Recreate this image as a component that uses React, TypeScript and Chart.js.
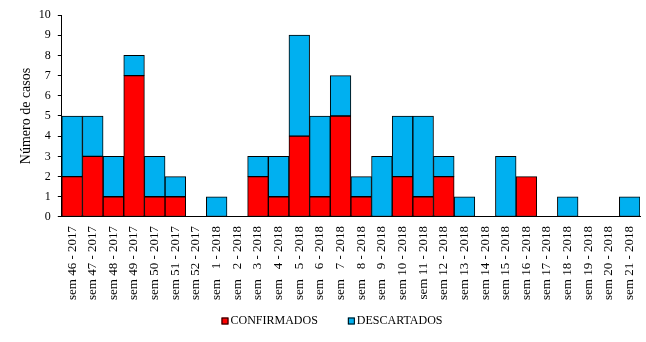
import React, { useEffect, useRef } from "react";
import { Chart, registerables } from "chart.js";

Chart.register(...registerables);

const categories = [
  "sem 46 - 2017", "sem 47 - 2017", "sem 48 - 2017", "sem 49 - 2017", "sem 50 - 2017",
  "sem 51 - 2017", "sem 52 - 2017", "sem   1 - 2018", "sem   2 - 2018", "sem   3 - 2018",
  "sem   4 - 2018", "sem   5 - 2018", "sem   6 - 2018", "sem   7 - 2018", "sem   8 - 2018",
  "sem   9 - 2018", "sem 10 - 2018", "sem 11 - 2018", "sem 12 - 2018", "sem 13 - 2018",
  "sem 14 - 2018", "sem 15 - 2018", "sem 16 - 2018", "sem 17 - 2018", "sem 18 - 2018",
  "sem 19 - 2018", "sem 20 - 2018", "sem 21 - 2018",
];

const confirmados = [2, 3, 1, 7, 1, 1, 0, 0, 0, 2, 1, 4, 1, 5, 1, 0, 2, 1, 2, 0, 0, 0, 2, 0, 0, 0, 0, 0];
const descartados = [3, 2, 2, 1, 2, 1, 0, 1, 0, 1, 2, 5, 4, 2, 1, 3, 3, 4, 1, 1, 0, 3, 0, 0, 1, 0, 0, 1];

const seriesNames = ["CONFIRMADOS", "DESCARTADOS"];
const seriesColors = ["#FF0000", "#00B0F0"];

const yTicksMax = 10;

const FAMILY = "Liberation Serif, Times New Roman, serif";

// custom bottom legend: small bordered squares, tight gap to text
const bottomLegend = {
  id: "bottomLegend",
  afterDraw(chart: any) {
    const ctx = chart.ctx as CanvasRenderingContext2D;
    ctx.save();
    ctx.font = `12px ${FAMILY}`;
    ctx.textBaseline = "middle";
    ctx.textAlign = "left";
    const box = 7;
    const gapText = 2;
    const gapItem = 30;
    const items = chart.data.datasets.map((ds: any) => ({
      text: ds.label,
      color: ds.backgroundColor,
      w: ctx.measureText(ds.label).width,
    }));
    const total = items.reduce((s: number, it: any) => s + box + gapText + it.w, 0) + gapItem * (items.length - 1);
    let x = chart.width / 2 + 9 - total / 2;
    const y = chart.height - 21;
    items.forEach((it: any) => {
      ctx.fillStyle = it.color;
      ctx.fillRect(x, y - box / 2, box, box);
      ctx.strokeStyle = "#000";
      ctx.lineWidth = 1;
      ctx.strokeRect(x + 0.5, y - box / 2 + 0.5, box - 1, box - 1);
      x += box + gapText;
      ctx.fillStyle = "#000";
      ctx.fillText(it.text, x, y);
      x += it.w + gapItem;
    });
    ctx.restore();
  },
};

export default function App() {
  const ref = useRef<HTMLCanvasElement | null>(null);

  useEffect(() => {
    document.body.style.margin = "0";
    if (!ref.current) return;
    const chart = new Chart(ref.current, {
      type: "bar",
      data: {
        labels: categories,
        datasets: [
          {
            label: seriesNames[0],
            data: confirmados,
            backgroundColor: seriesColors[0],
            borderColor: "#000000",
            borderWidth: 1,
            borderSkipped: false,
          },
          {
            label: seriesNames[1],
            data: descartados,
            backgroundColor: seriesColors[1],
            borderColor: "#000000",
            borderWidth: 1,
            borderSkipped: false,
          },
        ],
      },
      options: {
        animation: false,
        responsive: false,
        maintainAspectRatio: false,
        datasets: { bar: { barPercentage: 1, categoryPercentage: 1 } },
        layout: { padding: { left: 9, right: 6, top: 15, bottom: 33 } },
        plugins: {
          tooltip: { enabled: false },
          legend: { display: false },
        },
        scales: {
          x: {
            stacked: true,
            clip: false,
            grid: { display: false, drawTicks: false },
            border: { display: true, color: "#000", width: 1 },
            ticks: { font: { family: FAMILY, size: 13 }, color: "#000", minRotation: 90, maxRotation: 90, autoSkip: false, padding: 9 },
            afterFit: (scale: any) => {
              scale.paddingRight = 0;
              scale.paddingLeft = 0;
            },
          },
          y: {
            stacked: true,
            min: 0,
            max: yTicksMax,
            grid: { drawOnChartArea: false, drawTicks: true, tickLength: 4, color: "#000" },
            border: { display: true, color: "#000", width: 1 },
            ticks: { font: { family: FAMILY, size: 12 }, color: "#000", stepSize: 1, padding: 7, autoSkip: false },
            title: {
              display: true,
              text: "Número de casos",
              font: { family: FAMILY, size: 14 },
              color: "#000",
              padding: { top: 9, bottom: -3 },
            },
          },
        },
      },
      plugins: [bottomLegend],
    });
    return () => chart.destroy();
  }, []);

  return <canvas ref={ref} width={646} height={342} style={{ display: "block" }} />;
}
